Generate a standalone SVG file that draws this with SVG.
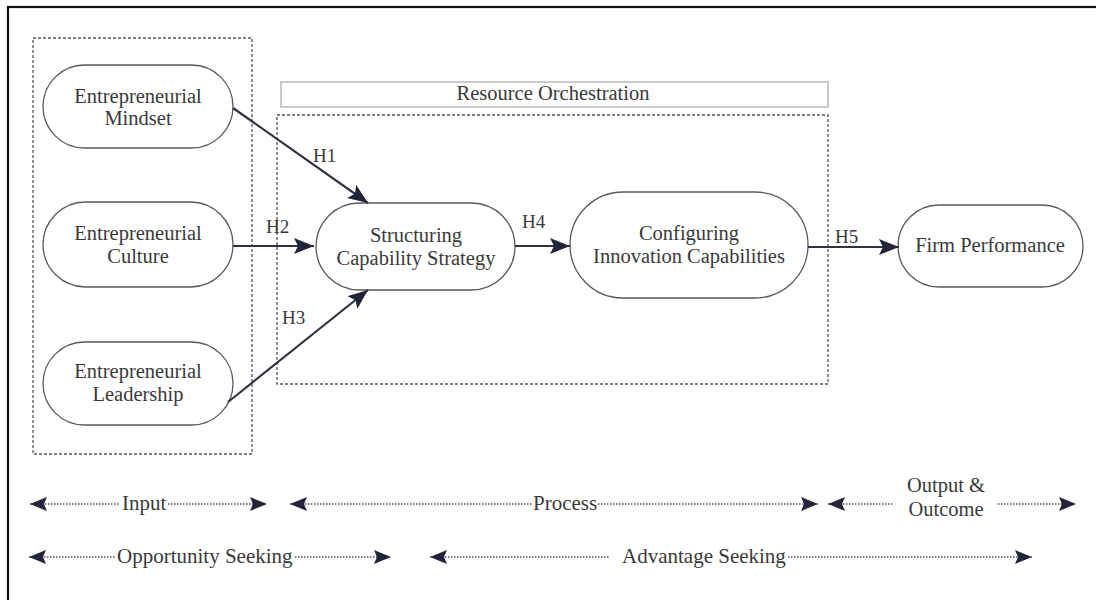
<svg xmlns="http://www.w3.org/2000/svg" width="1096" height="600" viewBox="0 0 1096 600">
<defs>
<style>
.node{fill:#fff;stroke:#5a5a5a;stroke-width:1.3}
.t{font-family:"Liberation Serif","Times New Roman",serif;font-size:20.5px;fill:#3a3a3a;text-anchor:middle}
.ts{font-family:"Liberation Serif","Times New Roman",serif;font-size:21px;fill:#3a3a3a}
.h{font-family:"Liberation Serif","Times New Roman",serif;font-size:19px;fill:#3a3a3a}
.dash{fill:none;stroke:#555;stroke-width:1.3;stroke-dasharray:3 2}
.conn{fill:none;stroke:#333340;stroke-width:2.2}
.dot{fill:none;stroke:#555;stroke-width:1.6;stroke-dasharray:1.5 1.5}
</style>
<marker id="ah" markerUnits="userSpaceOnUse" markerWidth="22" markerHeight="18" refX="20" refY="8" orient="auto">
<path d="M0,0 L20,8 L0,16 L4,8 z" fill="#23233a"/>
</marker>
<marker id="ab" markerUnits="userSpaceOnUse" markerWidth="20" markerHeight="16" refX="17" refY="7" orient="auto-start-reverse">
<path d="M0,0 L17,7 L0,14 L3,7 z" fill="#23233a"/>
</marker>
</defs>
<rect width="1096" height="600" fill="#fff"/>
<rect x="8" y="7" width="1100" height="610" fill="none" stroke="#111" stroke-width="2.2"/>

<g id="input-box"><rect class="dash" x="33" y="38" width="219" height="416"/></g>
<g id="resource-orchestration">
<rect x="281" y="82" width="547" height="25" fill="none" stroke="#bdbdbd" stroke-width="1.6"/>
<text class="t" x="553" y="100">Resource Orchestration</text>
</g>
<g id="process-box"><rect class="dash" x="277" y="115" width="551" height="269"/></g>

<g id="mindset">
<rect class="node" x="43" y="65" width="190" height="83" rx="41.5"/>
<text class="t" x="138" y="103">Entrepreneurial</text>
<text class="t" x="138" y="125">Mindset</text>
</g>
<g id="culture">
<rect class="node" x="43" y="202" width="190" height="85" rx="42.5"/>
<text class="t" x="138" y="240">Entrepreneurial</text>
<text class="t" x="138" y="263">Culture</text>
</g>
<g id="leadership">
<rect class="node" x="43" y="342" width="190" height="83" rx="41.5"/>
<text class="t" x="138" y="378">Entrepreneurial</text>
<text class="t" x="138" y="401">Leadership</text>
</g>
<g id="structuring">
<rect class="node" x="316" y="203" width="199" height="87" rx="43.5"/>
<text class="t" x="416" y="242">Structuring</text>
<text class="t" x="416" y="265">Capability Strategy</text>
</g>
<g id="configuring">
<rect class="node" x="570" y="192" width="238" height="106" rx="53"/>
<text class="t" x="689" y="240">Configuring</text>
<text class="t" x="689" y="263">Innovation Capabilities</text>
</g>
<g id="firm-performance">
<rect class="node" x="898" y="205" width="185" height="82" rx="41"/>
<text class="t" x="990" y="252">Firm Performance</text>
</g>

<g id="connectors">
<line class="conn" x1="233" y1="108" x2="368" y2="203" marker-end="url(#ah)"/>
<line class="conn" x1="233" y1="246" x2="314" y2="246" marker-end="url(#ah)"/>
<line class="conn" x1="228" y1="402" x2="368" y2="290" marker-end="url(#ah)"/>
<line class="conn" x1="515" y1="246" x2="570" y2="246" marker-end="url(#ah)"/>
<line class="conn" x1="808" y1="247" x2="899" y2="247" marker-end="url(#ah)"/>
<text class="h" x="313" y="162">H1</text>
<text class="h" x="266" y="233">H2</text>
<text class="h" x="282" y="324">H3</text>
<text class="h" x="522" y="228">H4</text>
<text class="h" x="835" y="243">H5</text>
</g>

<g id="stage-arrows">
<line class="dot" x1="30" y1="504" x2="120" y2="504" marker-start="url(#ab)"/>
<line class="dot" x1="168" y1="504" x2="267" y2="504" marker-end="url(#ab)"/>
<text class="ts" x="122" y="510">Input</text>

<line class="dot" x1="290" y1="504" x2="533" y2="504" marker-start="url(#ab)"/>
<line class="dot" x1="598" y1="504" x2="818" y2="504" marker-end="url(#ab)"/>
<text class="ts" x="533" y="510">Process</text>

<line class="dot" x1="828" y1="504" x2="894" y2="504" marker-start="url(#ab)"/>
<line class="dot" x1="998" y1="504" x2="1076" y2="504" marker-end="url(#ab)"/>
<text class="t" x="946" y="492">Output &amp;</text>
<text class="t" x="946" y="516">Outcome</text>

<line class="dot" x1="29" y1="557" x2="115" y2="557" marker-start="url(#ab)"/>
<line class="dot" x1="295" y1="557" x2="391" y2="557" marker-end="url(#ab)"/>
<text class="ts" x="117" y="563">Opportunity Seeking</text>

<line class="dot" x1="430" y1="557" x2="610" y2="557" marker-start="url(#ab)"/>
<line class="dot" x1="788" y1="557" x2="1032" y2="557" marker-end="url(#ab)"/>
<text class="ts" x="622" y="563">Advantage Seeking</text>
</g>
</svg>
